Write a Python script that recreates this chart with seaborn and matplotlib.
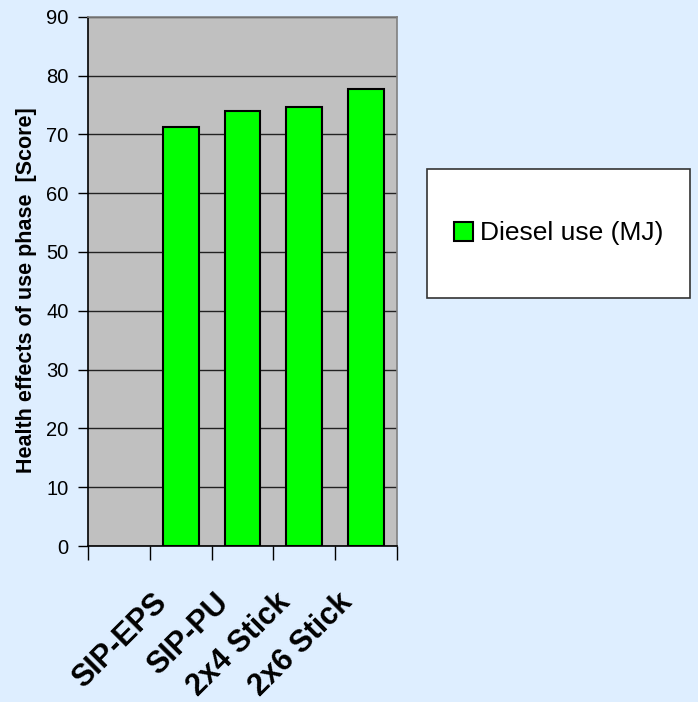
import matplotlib
matplotlib.use("Agg")
import matplotlib.pyplot as plt
from matplotlib.patches import Rectangle
import seaborn as sns
import pandas as pd

# data
categories = ["SIP-EPS", "SIP-PU", "2x4 Stick", "2x6 Stick"]
diesel_use = [71.2, 74.0, 74.7, 77.7]
slot_order = [""] + categories   # first category slot is empty in the original
series_name = "Diesel use (MJ)"
y_ticks = [0, 10, 20, 30, 40, 50, 60, 70, 80, 90]

df = pd.DataFrame({"category": categories, "value": diesel_use})

sns.set_theme(style="white")
plt.rcParams['font.family'] = ['Liberation Sans', 'DejaVu Sans']
plt.rcParams['text.color'] = 'black'
plt.rcParams['xtick.color'] = 'black'
plt.rcParams['ytick.color'] = 'black'
plt.rcParams['axes.labelcolor'] = 'black'

bg = '#DEEEFF'
fig = plt.figure(figsize=(6.98, 7.02), dpi=100, facecolor=bg)
ax = fig.add_axes([0.1261, 0.2222, 0.4427, 0.754])
ax.set_facecolor('#C0C0C0')

sns.barplot(data=df, x="category", y="value", order=slot_order, ax=ax,
            color='#00FF00', edgecolor='black', linewidth=1.5, width=0.58,
            saturation=1, label=series_name, zorder=3)
handles, labels = ax.get_legend_handles_labels()
if ax.get_legend() is not None:
    ax.get_legend().remove()

ax.set_ylim(0, 90)
ax.set_xlim(-0.5, len(slot_order) - 0.5)
ax.set_yticks(y_ticks)
ax.yaxis.grid(True, color='#222222', linewidth=1.0, zorder=0)
ax.set_axisbelow(True)
ax.tick_params(axis='y', direction='out', length=7, width=1,
               labelsize=14.5, pad=7, left=True)

# category boundaries as major ticks, labels on minor ticks
# (Excel-style rotated labels end a little left of the bar centre)
ax.set_xticks([i - 0.5 for i in range(len(slot_order) + 1)])
ax.set_xticklabels([])
ax.tick_params(axis='x', which='major', direction='out', length=10, width=1,
               bottom=True)
ax.set_xticks([i - 0.47 for i in range(1, len(slot_order))], minor=True)
ax.set_xticklabels(categories, minor=True, rotation=45, ha='right',
                   va='top', rotation_mode='anchor', fontsize=22,
                   fontweight='bold')
ax.tick_params(axis='x', which='minor', length=0, pad=30)

ax.set_xlabel("")
ax.set_ylabel("Health effects of use phase  [Score]", fontsize=15.5,
              fontweight='bold')
ax.yaxis.set_label_coords(-0.165, 0.4837)

for side in ['left', 'bottom']:
    ax.spines[side].set_color('black')
    ax.spines[side].set_linewidth(1.2)
for side in ['top', 'right']:
    ax.spines[side].set_color('#808080')
    ax.spines[side].set_linewidth(1.2)

# legend box on the right
box = Rectangle((0.6117, 0.5755), 0.3768, 0.1838, transform=fig.transFigure,
                facecolor='white', edgecolor='#333333', linewidth=1.2)
fig.patches.append(box)
fig.legend(handles, labels, loc='center', bbox_to_anchor=(0.80, 0.6674),
           frameon=False, fontsize=19, handlelength=0.75, handleheight=0.75,
           handletextpad=0.25)

fig.savefig("out.png", dpi=100, facecolor=bg)
